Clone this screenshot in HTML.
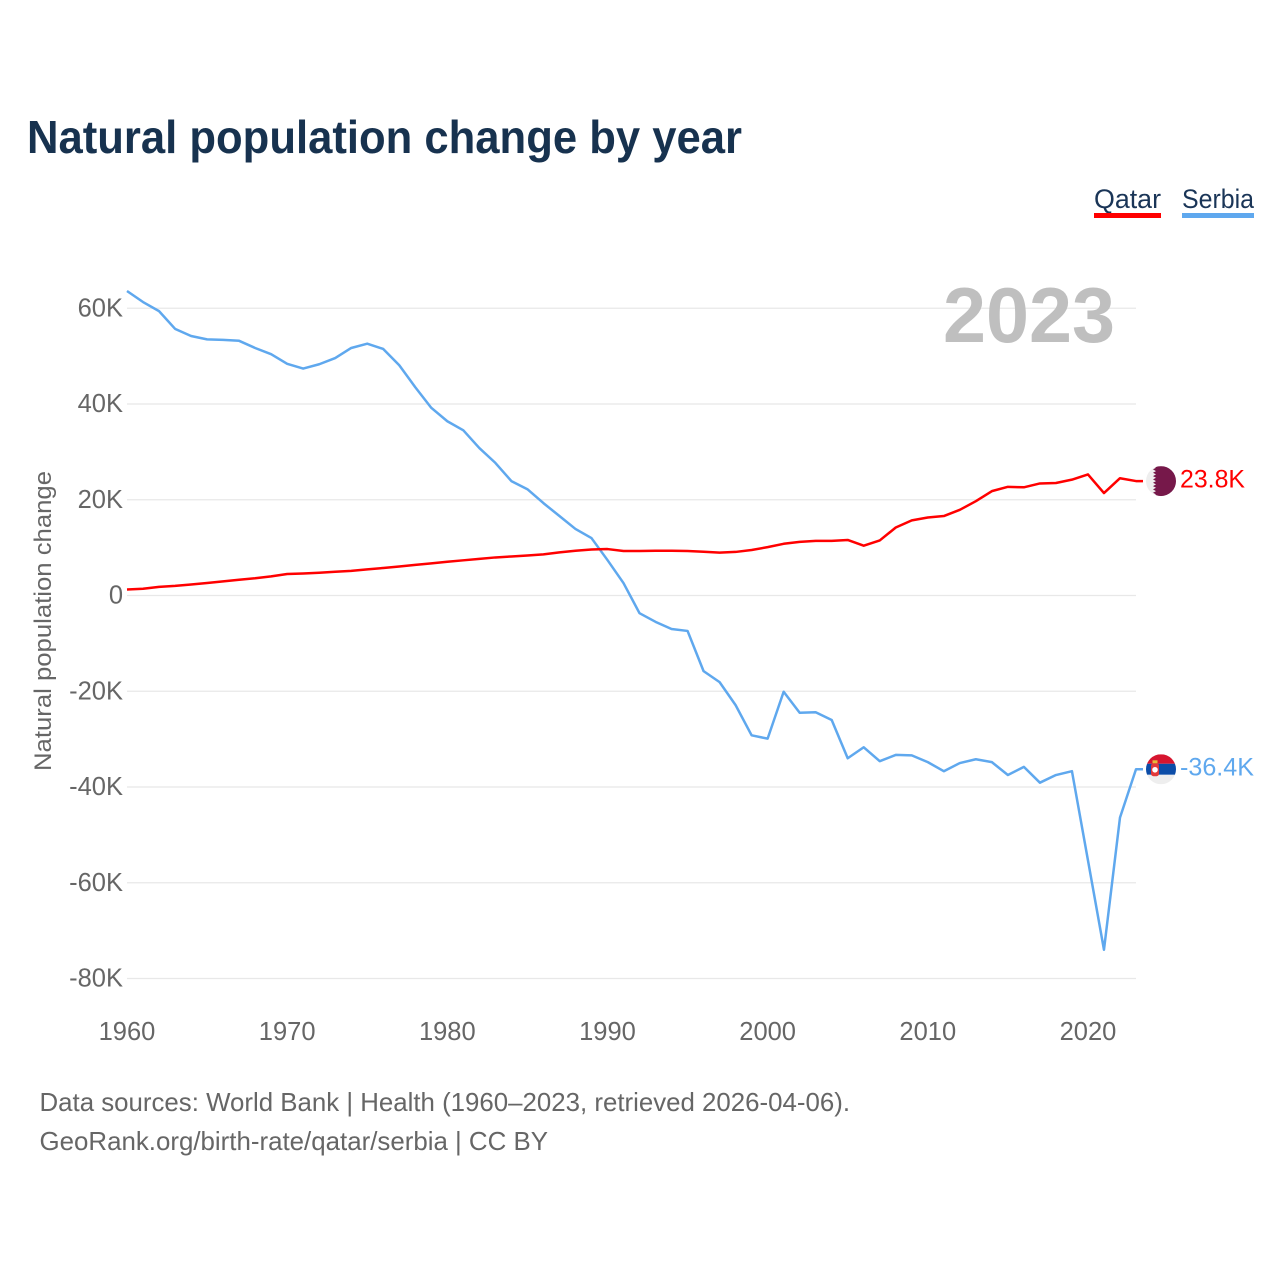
<!DOCTYPE html>
<html lang="en">
<head>
<meta charset="utf-8">
<title>Natural population change by year</title>
<style>
html,body{margin:0;padding:0;background:#fff;width:1280px;height:1280px;overflow:hidden}
svg{display:block}
text{font-family:"Liberation Sans",sans-serif}
.tick{font-size:25.5px;fill:#666}
.foot{font-size:26px;fill:#666}
.legend{font-size:27px;fill:#1a3557}
</style>
</head>
<body>
<svg id="chart" width="1280" height="1280" viewBox="0 0 1280 1280" xmlns="http://www.w3.org/2000/svg">
  <defs>
    <clipPath id="flag-clip"><circle cx="0" cy="0" r="15"/></clipPath>
  </defs>
  <text x="27" y="153" font-size="46" font-weight="700" fill="#17324f" textLength="715" lengthAdjust="spacingAndGlyphs">Natural population change by year</text>

  <g>
    <text class="legend" x="1094" y="208" textLength="67" lengthAdjust="spacingAndGlyphs">Qatar</text>
    <rect x="1094" y="213" width="67" height="5" fill="#ff0000"/>
  </g>
  <g>
    <text class="legend" x="1182" y="208" textLength="72" lengthAdjust="spacingAndGlyphs">Serbia</text>
    <rect x="1182" y="213" width="72" height="5" fill="#5fa8ee"/>
  </g>

  <g id="grid"></g>
  <g id="yticks"></g>
  <g id="xticks"></g>

  <text transform="translate(51 771) rotate(-90)" font-size="24.5" fill="#666" textLength="300" lengthAdjust="spacingAndGlyphs">Natural population change</text>

  <text x="943" y="342" font-size="78" font-weight="700" fill="#bfbfbf" textLength="172" lengthAdjust="spacingAndGlyphs">2023</text>

  <path id="line-serbia" fill="none" stroke="#5fa8ee" stroke-width="2.5" stroke-linejoin="round"/>
  <path id="line-qatar" fill="none" stroke="#ff0000" stroke-width="2.5" stroke-linejoin="round"/>

  <g id="flag-qatar">
    <g clip-path="url(#flag-clip)">
      <rect x="-15" y="-15" width="30" height="30" fill="#eeeeee"/>
      <polygon fill="#76184a" points="-8,-15 -5,-13.3 -8,-11.7 -5,-10 -8,-8.3 -5,-6.7 -8,-5 -5,-3.3 -8,-1.7 -5,0 -8,1.7 -5,3.3 -8,5 -5,6.7 -8,8.3 -5,10 -8,11.7 -5,13.3 -8,15 15,15 15,-15"/>
    </g>
  </g>
  <g id="flag-serbia">
    <g clip-path="url(#flag-clip)">
      <rect x="-15" y="-15" width="30" height="9.5" fill="#d6152f"/>
      <rect x="-15" y="-5.5" width="30" height="11" fill="#0c4da8"/>
      <rect x="-15" y="5.5" width="30" height="9.5" fill="#eeeeee"/>
      <rect x="-10" y="-6" width="8" height="13" rx="2.5" fill="#e23a3a"/>
      <circle cx="-6" cy="0.5" r="2.8" fill="#ffffff"/>
      <rect x="-8.5" y="-9" width="5" height="3" fill="#e8b93a"/>
    </g>
  </g>
  <text id="value-qatar" x="1180" font-size="25" fill="#ff0000" textLength="65" lengthAdjust="spacingAndGlyphs"></text>
  <text id="value-serbia" x="1180" font-size="25" fill="#5fa8ee" textLength="74" lengthAdjust="spacingAndGlyphs"></text>

  <text class="foot" x="39.5" y="1111" textLength="810.5" lengthAdjust="spacingAndGlyphs">Data sources: World Bank | Health (1960–2023, retrieved 2026-04-06).</text>
  <text class="foot" x="39.5" y="1150" textLength="508.5" lengthAdjust="spacingAndGlyphs">GeoRank.org/birth-rate/qatar/serbia | CC BY</text>
</svg>
<script>
var startYear = 1960;
var yTickValues = [60, 40, 20, 0, -20, -40, -60, -80];
var yTickLabels = ["60K", "40K", "20K", "0", "-20K", "-40K", "-60K", "-80K"];
var xTickYears = [1960, 1970, 1980, 1990, 2000, 2010, 2020];
var qatarValues = [1.25,1.4,1.8,2.0,2.3,2.6,2.95,3.3,3.6,4.0,4.5,4.6,4.75,4.95,5.15,5.45,5.75,6.05,6.4,6.7,7.05,7.35,7.65,7.95,8.15,8.35,8.6,9.0,9.35,9.6,9.7,9.3,9.3,9.35,9.35,9.3,9.15,8.95,9.1,9.5,10.1,10.8,11.2,11.4,11.4,11.6,10.4,11.5,14.2,15.7,16.3,16.6,17.9,19.7,21.8,22.7,22.6,23.4,23.5,24.2,25.3,21.4,24.5,23.9];
var serbiaValues = [63.6,61.3,59.4,55.7,54.2,53.5,53.4,53.2,51.7,50.4,48.4,47.4,48.3,49.6,51.7,52.6,51.5,48.1,43.5,39.2,36.4,34.5,30.8,27.7,23.9,22.2,19.3,16.6,13.9,12,7.4,2.6,-3.7,-5.5,-7,-7.4,-15.8,-18.1,-22.9,-29.2,-29.9,-20.1,-24.5,-24.4,-26,-34,-31.7,-34.6,-33.3,-33.4,-34.8,-36.7,-35,-34.2,-34.8,-37.5,-35.8,-39.1,-37.5,-36.7,-55.3,-74,-46.4,-36.3];
var qatarLabel = "23.8K";
var serbiaLabel = "-36.4K";

var NS = "http://www.w3.org/2000/svg";
function xScale(year) { return 127 + (year - 1960) * (1136 - 127) / 63; }
function yScale(v) { return 595.5 - v * 4.7875; }

function linePath(values) {
  var d = "";
  for (var i = 0; i < values.length; i++) {
    d += (i ? "L" : "M") + xScale(startYear + i).toFixed(2) + " " + yScale(values[i]).toFixed(2);
  }
  var lastY = yScale(values[values.length - 1]).toFixed(2);
  d += "L" + (xScale(startYear + values.length - 1) + 7).toFixed(2) + " " + lastY;
  return d;
}

var grid = document.getElementById("grid");
var yticks = document.getElementById("yticks");
var xticks = document.getElementById("xticks");

yTickValues.forEach(function (v, i) {
  var gl = document.createElementNS(NS, "line");
  
  
  gl.setAttribute("x1", xScale(1960));
  gl.setAttribute("x2", xScale(2023));
  gl.setAttribute("y1", yScale(v));
  gl.setAttribute("y2", yScale(v));
  gl.setAttribute("stroke", "#e8e8e8");
  gl.setAttribute("stroke-width", "1.3");
  grid.appendChild(gl);

  var t = document.createElementNS(NS, "text");
  
  
  t.setAttribute("class", "tick");
  t.setAttribute("x", "123");
  t.setAttribute("y", yScale(v) + 8);
  t.setAttribute("text-anchor", "end");
  t.textContent = yTickLabels[i];
  yticks.appendChild(t);
});

xTickYears.forEach(function (yr) {
  var t = document.createElementNS(NS, "text");
  
  
  t.setAttribute("class", "tick");
  t.setAttribute("x", xScale(yr));
  t.setAttribute("y", "1040");
  t.setAttribute("text-anchor", "middle");
  t.textContent = String(yr);
  xticks.appendChild(t);
});

document.getElementById("line-qatar").setAttribute("d", linePath(qatarValues));
document.getElementById("line-serbia").setAttribute("d", linePath(serbiaValues));

var qY = yScale(qatarValues[qatarValues.length - 1]);
var sY = yScale(serbiaValues[serbiaValues.length - 1]);
document.getElementById("flag-qatar").setAttribute("transform", "translate(1161 " + qY + ")");
document.getElementById("flag-serbia").setAttribute("transform", "translate(1161 " + sY + ")");
var qv = document.getElementById("value-qatar");
qv.setAttribute("y", qY + 6.5);
qv.textContent = qatarLabel;
var sv = document.getElementById("value-serbia");
sv.setAttribute("y", sY + 6);
sv.textContent = serbiaLabel;
</script>
</body>
</html>
